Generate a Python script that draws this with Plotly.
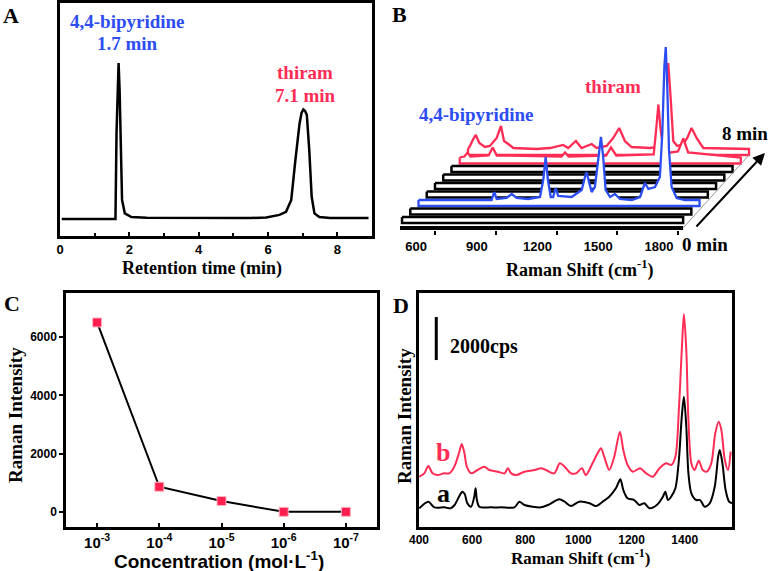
import plotly.graph_objects as go

W, H = 770, 571
SERIF = "Liberation Serif"
SANS = "Liberation Sans"
BLUE = "#2b4df2"
RED = "#ff2d55"

# ---------------- Panel A: chromatogram ----------------
ret_time = [0.05, 1.55, 1.60, 1.63, 1.66, 1.69, 1.72, 1.75, 1.79, 1.87, 2.06, 2.5, 4.0, 5.5,
            5.95, 6.33, 6.52, 6.67, 6.79, 6.91, 6.97, 7.02, 7.07, 7.12, 7.19, 7.26, 7.34, 7.48, 7.8, 8.9]
ret_signal = [-0.006, -0.006, -0.006, 0.546, 0.88, 1.0, 0.82, 0.546, 0.117, 0.03, 0.006, 0.002, 0.0, 0.0,
              0.004, 0.02, 0.04, 0.116, 0.374, 0.61, 0.68, 0.70, 0.69, 0.665, 0.44, 0.137, 0.03, 0.006, 0.0, 0.0]

# ---------------- Panel B: time-resolved SERS waterfall ----------------
b_times = [0, 1, 2, 3, 4, 5, 6, 7, 8]
flat_shift = [437, 1825]
flat_int = [0, 0]
bipy_shift = [437, 798, 811, 823, 872, 897, 922, 979, 1037, 1053, 1065, 1076, 1090, 1102, 1114, 1127,
              1193, 1243, 1259, 1267, 1279, 1292, 1308, 1325, 1338, 1349, 1361, 1383, 1407, 1432, 1490,
              1531, 1555, 1572, 1605, 1629, 1641, 1651, 1658, 1665, 1674, 1687, 1712, 1753, 1825]
bipy_int = [0, 0, 8, 1, 2, 6, 2, 1, 3, 20, 43, 20, 3, 3, 12, 4,
            3, 10, 23, 28, 18, 8, 13, 43, 63, 43, 10, 3, 6, 1, 0,
            3, 17, 11, 13, 23, 67, 133, 153, 117, 50, 13, 2, 0, 0]
thiram7_shift = [437, 460, 476, 490, 580, 600, 620, 940, 957, 975, 1160, 1184, 1210, 1395, 1408,
                 1418, 1428, 1445, 1515, 1541, 1565, 1825]
thiram7_int = [0, 1, 5, 1, 2, 10, 2, 1, 5, 1, 2, 10, 2, 3, 30, 53, 30, 4, 6, 19, 5, 0]
thiram8_shift = [437, 447, 463, 476, 493, 521, 545, 579, 600, 615, 636, 661, 776, 842, 907, 932, 970,
                 998, 1048, 1072, 1122, 1154, 1184, 1212, 1245, 1336, 1401, 1415, 1426, 1438, 1451,
                 1470, 1500, 1520, 1541, 1566, 1599, 1825]
thiram8_int = [0, 3, 10, 14, 6, 2, 3, 11, 23, 8, 5, 1, 0, 1, 4, 1, 8,
               1, 5, 1, 3, 11, 21, 8, 2, 1, 3, 51, 86, 51, 8,
               3, 5, 11, 21, 11, 1, 0]
b_ticks = [600, 900, 1200, 1500, 1800]

# ---------------- Panel C: concentration series ----------------
conc_labels = ["10<sup>-3</sup>", "10<sup>-4</sup>", "10<sup>-5</sup>", "10<sup>-6</sup>", "10<sup>-7</sup>"]
conc_intensity = [6500, 870, 380, 10, 10]

# ---------------- Panel D: SERS spectra ----------------
a_shift = [401, 435, 458, 496, 519, 534, 552, 563, 572, 582, 596, 608, 613, 618, 627, 671, 709, 759, 778,
           797, 859, 885, 928, 948, 972, 1003, 1042, 1066, 1091, 1116, 1141, 1158, 1169, 1185, 1210,
           1229, 1248, 1267, 1295, 1318, 1327, 1337, 1349, 1365, 1378, 1389, 1397, 1406, 1414, 1425,
           1443, 1458, 1475, 1494, 1513, 1526, 1532, 1542, 1554, 1567, 1578]
a_int = [-14, 293, 30, 30, -14, 140, 558, 758, 651, 218, 60, 527, 915, 372, 60, 30, 30, 30, 293,
         140, 30, 140, 404, 293, 93, 293, 218, 93, 293, 527, 915, 1333, 837, 450, 372,
         140, 218, -14, 140, 527, 758, 372, 527, 915, 2232, 4247, 5177, 3782, 1612, 682,
         372, 372, 60, 218, 992, 2387, 2697, 2077, 837, 293, 218]
b_shift = [401, 420, 435, 451, 469, 495, 514, 526, 538, 552, 561, 571, 580, 596, 620, 646, 665, 696,
           722, 734, 747, 766, 797, 835, 859, 878, 909, 930, 948, 972, 991, 1013, 1028, 1053, 1072,
           1085, 1097, 1116, 1135, 1156, 1169, 1185, 1205, 1232, 1255, 1280, 1305, 1330, 1349, 1365,
           1378, 1389, 1397, 1406, 1414, 1425, 1437, 1453, 1468, 1483, 1500, 1515, 1528, 1538, 1551,
           1563, 1573]
b_int = [1457, 1612, 1953, 1612, 1535, 1612, 1612, 1767, 2077, 2620, 2976, 2542, 1922, 1612, 1767, 1922,
         1767, 1690, 1612, 1845, 1612, 1535, 1690, 1767, 1845, 1767, 1612, 2077, 1922, 1612, 1612, 1845,
         1535, 2077, 2542, 2775, 2387, 1767, 2387, 3550, 2697, 2000, 1690, 1845, 1612, 1457, 1845, 2077,
         2000, 2387, 4557, 7347, 9021, 7347, 4092, 2077, 1767, 2201, 1767, 1690, 2077, 3472, 4015, 3627,
         2232, 1767, 2620]
scale_bar_cps = 2000


def px(x, y):
    return x / W, 1 - y / H


fig = go.Figure()

# Panel A
fig.add_trace(go.Scatter(x=ret_time, y=ret_signal, mode="lines", line=dict(color="black", width=2.5),
                         xaxis="x", yaxis="y", showlegend=False, hoverinfo="skip"))

# Panel B waterfall ribbons (back to front)
DX, DY, BASE0, THICK = 40.7, 8.5, 13, 6
layers = {2: (bipy_shift, bipy_int, BLUE), 7: (thiram7_shift, thiram7_int, RED),
          8: (thiram8_shift, thiram8_int, RED)}
for i in reversed(range(len(b_times))):
    sh, it, col = layers.get(i, (flat_shift, flat_int, "black"))
    base = BASE0 + DY * i
    xs = [s + DX * i for s in sh]
    ys = [base + v for v in it]
    fig.add_trace(go.Scatter(x=xs + [xs[-1], xs[0], xs[0]], y=ys + [base - THICK, base - THICK, ys[0]],
                             mode="lines", fill="toself", fillcolor="white",
                             line=dict(color=col, width=2.5 if col == "black" else 2.3),
                             xaxis="x2", yaxis="y2", showlegend=False, hoverinfo="skip"))

# Panel C
fig.add_trace(go.Scatter(x=list(range(len(conc_labels))), y=conc_intensity, mode="lines+markers",
                         line=dict(color="black", width=2),
                         marker=dict(symbol="square", size=9, color="#ff1e4e",
                                     line=dict(color="#ffb3c3", width=1)),
                         xaxis="x3", yaxis="y3", showlegend=False, hoverinfo="skip"))

# Panel D
fig.add_trace(go.Scatter(x=a_shift, y=a_int, mode="lines", line=dict(color="black", width=2, shape="spline", smoothing=0.8),
                         xaxis="x4", yaxis="y4", showlegend=False, hoverinfo="skip"))
fig.add_trace(go.Scatter(x=b_shift, y=b_int, mode="lines", line=dict(color=RED, width=2, shape="spline", smoothing=0.8),
                         xaxis="x4", yaxis="y4", showlegend=False, hoverinfo="skip"))


def tf(size):
    return dict(family=SANS, size=size, color="black", weight="bold")


frame = dict(showline=True, mirror=True, linewidth=2.5, linecolor="black", showgrid=False,
             zeroline=False, automargin=False)

fig.update_layout(
    width=W, height=H, margin=dict(l=0, r=0, t=0, b=0, autoexpand=False),
    paper_bgcolor="white", plot_bgcolor="white",
    xaxis=dict(domain=[60 / W, 372 / W], range=[0, 9], tickvals=[0, 2, 4, 6, 8], ticks="inside",
               ticklen=4, tickwidth=2, tickcolor="black", tickfont=tf(13),
               minor=dict(ticks="inside", dtick=1, ticklen=3, tickwidth=1.5, tickcolor="black"),
               anchor="y", **frame),
    yaxis=dict(domain=[1 - 236 / H, 1 - 3 / H], range=[-0.116, 1.387], showticklabels=False,
               ticks="", anchor="x", **frame),
    xaxis2=dict(domain=[400 / W, 1], range=[427, 427 + 370 / 0.2025], tickvals=b_ticks, ticks="outside",
                ticklen=4, tickwidth=2, tickcolor="black", tickfont=tf(13),
                ticklabelshift=-19, showline=False, showgrid=False, zeroline=False,
                automargin=False, anchor="y2"),
    yaxis2=dict(domain=[1 - 230 / H, 1 - 30 / H], range=[0, 200], visible=False, automargin=False,
                anchor="x2"),
    xaxis3=dict(domain=[66 / W, 377 / W], range=[-0.5, 4.5], tickvals=list(range(len(conc_labels))),
                ticktext=conc_labels, ticks="inside", ticklen=4, tickwidth=2, tickcolor="black",
                tickfont=tf(15), anchor="y3", **frame),
    yaxis3=dict(domain=[1 - 527 / H, 1 - 293 / H], range=[-510, 7510], tickvals=[0, 2000, 4000, 6000],
                ticks="outside", ticklen=4, tickwidth=2, tickcolor="black",
                tickfont=tf(12), anchor="x3", **frame),
    xaxis4=dict(domain=[419 / W, 732 / W], range=[400, 1578], tickvals=[400, 600, 800, 1000, 1200, 1400],
                ticks="", ticklen=0, tickfont=tf(12), anchor="y4", **frame),
    yaxis4=dict(domain=[1 - 527 / H, 1 - 293 / H], range=[-883, 9998], showticklabels=False, ticks="",
                anchor="x4", **frame),
)

# Panel B decorations: floor bar, right floor edge, time arrow
fig.add_shape(type="line", xref="x2", yref="y2", x0=flat_shift[0] - 10, x1=flat_shift[-1], y0=2, y1=2,
              line=dict(color="black", width=4))
fig.add_shape(type="line", xref="x2", yref="y2", x0=flat_shift[-1], y0=2,
              x1=flat_shift[-1] + DX * b_times[-1], y1=BASE0 + DY * b_times[-1] - THICK,
              line=dict(color="#9a9a9a", width=1))
fig.add_annotation(x=2229, y=77, ax=1884, ay=2, xref="x2", yref="y2", axref="x2", ayref="y2",
                   showarrow=True, arrowhead=2, arrowsize=1.2, arrowwidth=2, arrowcolor="black", text="")

# Panel D scale bar
fig.add_shape(type="line", xref="x4", yref="y4", x0=465, x1=465, y0=6880, y1=6880 + scale_bar_cps,
              line=dict(color="black", width=3))


def txt(x, y, text, size, color="black", family=SERIF, angle=0, xanchor="center"):
    ax, ay = px(x, y)
    fig.add_annotation(x=ax, y=ay, xref="paper", yref="paper", text=text, showarrow=False,
                       xanchor=xanchor, yanchor="middle", textangle=angle,
                       font=dict(family=family, size=size, color=color, weight="bold"))


# panel letters
txt(11, 15, "A", 22)
txt(400, 14, "B", 22)
txt(12, 303, "C", 22)
txt(401, 305, "D", 22)

# Panel A labels
txt(127, 22, "4,4-bipyridine", 19, BLUE)
txt(127, 44, "1.7 min", 19, BLUE)
txt(305, 72, "thiram", 19, RED)
txt(305, 95, "7.1 min", 19, RED)
txt(202, 268, "Retention time (min)", 18)

# Panel B labels
txt(476, 115, "4,4-bipyridine", 19, BLUE)
txt(613, 87, "thiram", 19, RED)
txt(745, 133, "8 min", 19)
txt(705, 244, "0 min", 19)
txt(580, 269, "Raman Shift (cm<sup>-1</sup>)", 18)

# Panel C labels
txt(219, 560, "Concentration (mol·L<sup>-1</sup>)", 19, family=SANS)
txt(15, 415, "Raman Intensity", 19, angle=-90)

# Panel D labels
txt(448, 346, "2000cps", 20, xanchor="left")
txt(443, 452, "b", 26, RED)
txt(443, 493, "a", 26)
txt(580, 557, "Raman Shift (cm<sup>-1</sup>)", 17)
txt(404, 416, "Raman Intensity", 19, angle=-90)

fig.write_html("out.html", config={"displayModeBar": False},
               post_script="document.body.style.margin='0';document.body.style.overflow='hidden';")
